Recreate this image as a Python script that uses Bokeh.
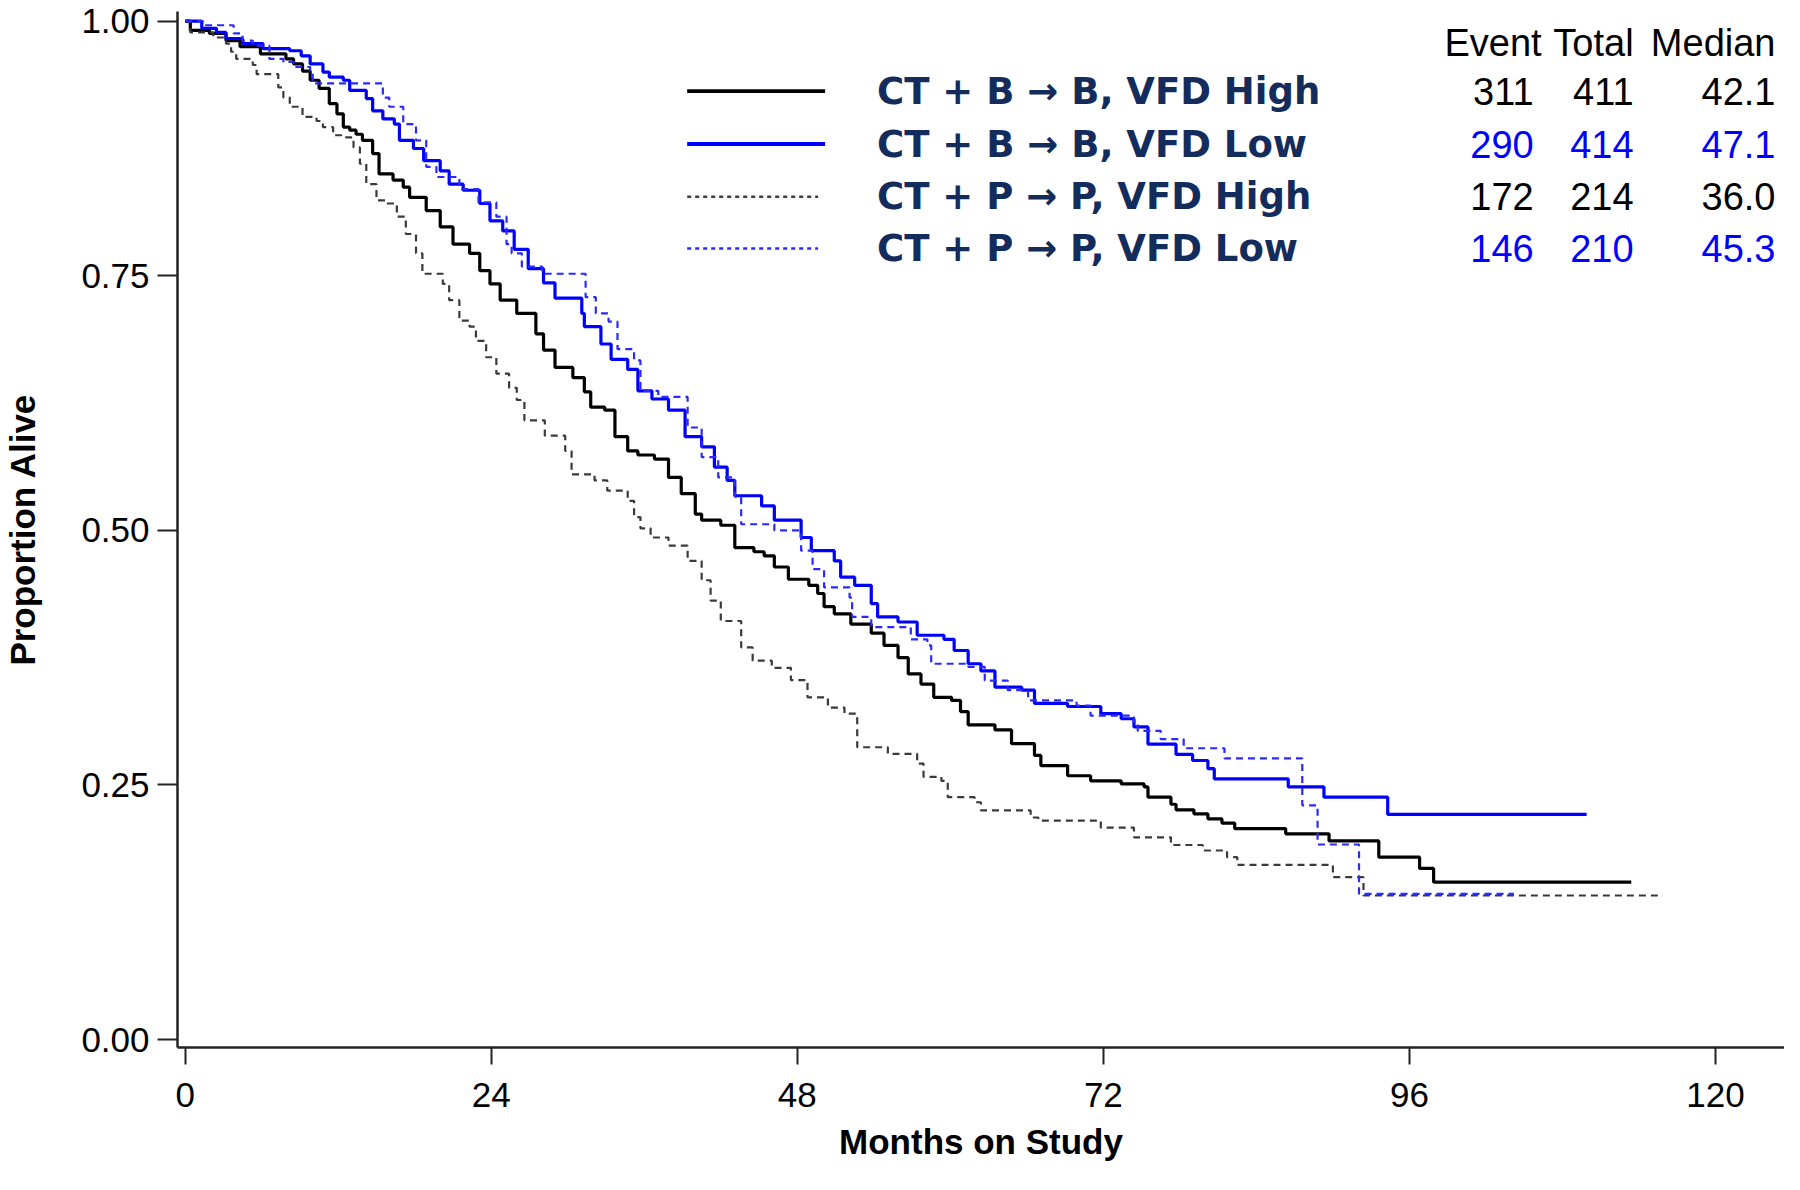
from bokeh.plotting import figure
from bokeh.models import Range1d, FixedTicker
from bokeh.core.properties import value
from bokeh.embed import file_html
from bokeh.resources import INLINE

# ---------------- data ----------------
b_high_t = [0, 0.4, 1.9, 3.2, 4.3, 5.9, 7.9, 8.5, 9.2, 9.8, 10.5, 11.3, 11.9, 12.4, 12.9, 13.4, 13.9,
            14.7, 15.2, 16.3, 17.1, 17.6, 18.9, 20.0, 21.0, 22.3, 23.1, 23.9, 24.7, 26.0, 27.5, 28.1,
            29.0, 30.4, 31.3, 31.8, 32.9, 33.7, 34.7, 35.5, 36.8, 37.9, 38.9, 40.0, 40.5, 42.0, 43.1,
            44.6, 45.4, 46.2, 47.3, 48.9, 49.6, 50.1, 50.9, 52.2, 53.8, 54.8, 55.9, 56.7, 57.7, 58.7,
            60.1, 60.8, 61.4, 63.5, 64.8, 66.6, 67.1, 69.2, 71.0, 73.4, 75.2, 75.5, 77.3, 77.7, 79.1,
            80.2, 81.3, 82.3, 86.3, 89.7, 93.6, 96.8, 97.9, 113.4]
b_high_s = [1.0, 0.991, 0.988, 0.981, 0.975, 0.968, 0.963, 0.958, 0.951, 0.942, 0.934, 0.919, 0.909,
            0.896, 0.893, 0.889, 0.883, 0.870, 0.850, 0.844, 0.837, 0.827, 0.814, 0.798, 0.781, 0.772,
            0.755, 0.742, 0.726, 0.713, 0.693, 0.677, 0.660, 0.650, 0.636, 0.621, 0.618, 0.592, 0.578,
            0.574, 0.570, 0.552, 0.536, 0.516, 0.510, 0.505, 0.483, 0.479, 0.475, 0.464, 0.452, 0.446,
            0.438, 0.425, 0.418, 0.408, 0.399, 0.387, 0.375, 0.359, 0.349, 0.336, 0.333, 0.322, 0.309,
            0.304, 0.2905, 0.279, 0.269, 0.259, 0.254, 0.251, 0.248, 0.238, 0.231, 0.2255, 0.2216,
            0.2167, 0.2125, 0.207, 0.202, 0.195, 0.179, 0.168, 0.1545, 0.1545]

b_low_t = [0, 1.3, 2.45, 3.2, 4.5, 6.1, 8.2, 9.1, 9.8, 10.8, 11.3, 12.4, 12.9, 14.2, 14.7, 15.5, 16.4,
           16.8, 17.9, 18.7, 20.0, 20.7, 21.8, 23.1, 23.9, 24.9, 25.8, 26.9, 28.1, 29.0, 31.1, 31.3,
           32.6, 33.4, 34.7, 35.5, 36.6, 37.9, 39.2, 40.5, 41.5, 42.5, 43.1, 45.2, 46.2, 48.3, 49.1,
           50.9, 51.4, 52.5, 53.8, 54.3, 55.9, 57.4, 59.5, 60.3, 61.4, 62.4, 63.5, 65.6, 66.6, 69.2,
           71.8, 73.4, 74.4, 75.5, 77.7, 79.0, 80.2, 80.7, 86.5, 89.3, 94.3, 109.9]
b_low_s = [1.0, 0.993, 0.989, 0.983, 0.978, 0.973, 0.971, 0.966, 0.958, 0.950, 0.945, 0.942, 0.932,
           0.924, 0.912, 0.904, 0.899, 0.883, 0.875, 0.863, 0.853, 0.840, 0.834, 0.821, 0.804, 0.794,
           0.776, 0.757, 0.743, 0.728, 0.713, 0.700, 0.683, 0.668, 0.658, 0.637, 0.629, 0.618, 0.592,
           0.582, 0.562, 0.549, 0.534, 0.524, 0.510, 0.493, 0.480, 0.470, 0.454, 0.446, 0.428, 0.415,
           0.410, 0.397, 0.393, 0.382, 0.369, 0.362, 0.346, 0.343, 0.330, 0.327, 0.320, 0.315, 0.307,
           0.290, 0.280, 0.274, 0.266, 0.256, 0.248, 0.238, 0.221, 0.221]

p_high_t = [0, 0.4, 2.2, 3.2, 3.6, 4.0, 5.3, 5.6, 7.3, 7.7, 8.2, 9.2, 10.3, 10.8, 11.6, 12.6, 13.2, 13.7,
            14.2, 15.0, 15.8, 16.6, 17.3, 18.1, 18.6, 20.2, 20.7, 21.5, 22.3, 22.8, 23.6, 24.4, 25.4,
            26.0, 26.6, 28.2, 29.8, 30.3, 32.1, 33.1, 34.7, 35.2, 35.7, 36.5, 37.9, 39.4, 40.5, 41.2,
            42.0, 43.6, 44.5, 46.0, 47.5, 48.8, 50.4, 51.7, 52.7, 55.1, 57.4, 57.9, 59.3, 59.8, 61.9,
            62.4, 66.3, 66.9, 71.8, 74.4, 77.3, 79.8, 81.7, 82.5, 90.0, 92.4, 115.6]
p_high_s = [1.0, 0.989, 0.984, 0.978, 0.970, 0.963, 0.957, 0.948, 0.935, 0.925, 0.916, 0.906, 0.902,
            0.896, 0.888, 0.886, 0.876, 0.860, 0.840, 0.824, 0.821, 0.808, 0.791, 0.772, 0.752, 0.742,
            0.726, 0.706, 0.700, 0.686, 0.670, 0.654, 0.640, 0.628, 0.608, 0.593, 0.578, 0.555, 0.549,
            0.539, 0.529, 0.513, 0.502, 0.493, 0.485, 0.470, 0.451, 0.431, 0.411, 0.385, 0.372, 0.365,
            0.353, 0.336, 0.326, 0.320, 0.287, 0.2805, 0.271, 0.258, 0.254, 0.238, 0.233, 0.225, 0.218,
            0.215, 0.208, 0.1985, 0.191, 0.1856, 0.179, 0.1715, 0.1594, 0.1414, 0.1414]

p_low_t = [0, 1.4, 3.8, 4.5, 5.3, 6.6, 7.7, 8.5, 9.8, 10.0, 15.5, 16.0, 17.1, 18.1, 18.9, 19.7, 21.5,
           23.0, 24.4, 25.2, 25.6, 26.4, 28.0, 31.4, 32.2, 33.2, 33.9, 35.2, 35.7, 37.1, 39.4, 40.5,
           41.8, 43.1, 43.6, 46.2, 48.3, 49.2, 50.1, 52.1, 52.3, 53.8, 56.9, 58.2, 58.5, 61.4, 62.7,
           64.5, 66.1, 69.9, 71.0, 74.4, 74.7, 76.5, 78.3, 81.5, 87.6, 88.8, 92.05, 104.2]
p_low_s = [1.0, 0.996, 0.988, 0.981, 0.976, 0.963, 0.960, 0.955, 0.950, 0.939, 0.925, 0.916, 0.899,
           0.883, 0.857, 0.847, 0.835, 0.822, 0.808, 0.781, 0.772, 0.759, 0.752, 0.729, 0.713, 0.705,
           0.678, 0.667, 0.637, 0.631, 0.601, 0.572, 0.552, 0.533, 0.506, 0.500, 0.480, 0.462, 0.444,
           0.434, 0.415, 0.405, 0.393, 0.387, 0.369, 0.366, 0.3525, 0.343, 0.333, 0.328, 0.318, 0.312,
           0.303, 0.295, 0.286, 0.276, 0.230, 0.1915, 0.143, 0.143]

legend_labels = ["CT + B \u2192 B, VFD High", "CT + B \u2192 B, VFD Low",
                 "CT + P \u2192 P, VFD High", "CT + P \u2192 P, VFD Low"]
events = ["311", "290", "172", "146"]
totals = ["411", "414", "214", "210"]
medians = ["42.1", "47.1", "36.0", "45.3"]
table_header = ["Event", "Total", "Median"]
x_ticks = [0, 24, 48, 72, 96, 120]
y_ticks = [0.0, 0.25, 0.5, 0.75, 1.0]
x_title = "Months on Study"
y_title = "Proportion Alive"

# ---------------- styles ----------------
series = [
    (b_high_t, b_high_s, "#000000", 3.2, "solid"),
    (b_low_t, b_low_s, "#0000ff", 3.2, "solid"),
    (p_high_t, p_high_s, "#3a3a3a", 2.2, "7 5"),
    (p_low_t, p_low_s, "#2a2aff", 2.2, "7 5"),
]
row_colors = ["#000000", "#0000ff", "#000000", "#0000ff"]

W, H = 1784, 1174

def mx(px):
    return (px - 183.7) / 12.76

def sy(py):
    return (1039.0 - py) / 1018.3

FL, FR, FT, FB = 176, 1784, 11, 1047
p = figure(width=W, height=H, output_backend="svg", toolbar_location=None,
           x_range=Range1d(mx(FL), mx(FR)), y_range=Range1d(sy(FB), sy(FT)),
           min_border_left=FL, min_border_right=W - FR, min_border_top=FT, min_border_bottom=H - FB)
p.outline_line_color = None
p.xgrid.visible = False
p.ygrid.visible = False
p.background_fill_color = "white"

tick_font = "Liberation Sans"
for ax in (p.xaxis[0], p.yaxis[0]):
    ax.axis_line_width = 2.5
    ax.axis_line_color = "#222222"
    ax.major_tick_line_width = 2
    ax.major_tick_line_color = "#222222"
    ax.minor_tick_line_color = None
    ax.major_tick_in = 0
    ax.major_label_text_font = tick_font
    ax.major_label_text_font_size = "35px"
    ax.major_label_text_color = "black"
    ax.axis_label_text_font = tick_font
    ax.axis_label_text_font_style = "bold"
    ax.axis_label_text_font_size = "35px"
    ax.axis_label_text_color = "black"

p.xaxis.ticker = FixedTicker(ticks=x_ticks)
p.xaxis.major_tick_out = 17
p.xaxis.major_label_standoff = 18
p.xaxis.axis_label = x_title
p.xaxis.axis_label_standoff = 12

p.yaxis.ticker = FixedTicker(ticks=y_ticks)
p.yaxis.major_label_overrides = {t: f"{t:.2f}" for t in y_ticks}
p.yaxis.major_tick_out = 20
p.yaxis.major_label_standoff = 8
p.yaxis.axis_label = y_title
p.yaxis.axis_label_standoff = 36

for t, s, col, lw, dash in series:
    p.step(t, s, mode="after", line_color=col, line_width=lw, line_dash=dash)

# legend
row_y = [sy(90.7), sy(143.5), sy(196.3), sy(248.0)]
leg_x0 = mx(686.0)
leg_x1 = [mx(824.0), mx(824.0), mx(817.0), mx(817.0)]
for i, (t, s, col, lw, dash) in enumerate(series):
    p.line([leg_x0, leg_x1[i]], [row_y[i], row_y[i]], line_color=col,
           line_width=lw + 0.6 if dash == "solid" else 2.6, line_dash=dash if dash == "solid" else "4 4")

p.text(x=[mx(876.0)] * 4, y=row_y, text=legend_labels, text_font=value("DejaVu Sans"),
       text_font_style="bold", text_font_size="37px", text_color="#142c5c",
       text_baseline="middle", text_align="left")

col_x = [mx(1533.0), mx(1633.0), mx(1775.0)]
hdr_x = [mx(1541.0), mx(1633.0), mx(1775.0)]
p.text(x=hdr_x, y=[sy(42.5)] * 3, text=table_header, text_font=value(tick_font),
       text_font_size="38px", text_color="black", text_baseline="middle", text_align="right")
for j, colvals in enumerate([events, totals, medians]):
    p.text(x=[col_x[j]] * 4, y=row_y, text=colvals, text_font=value(tick_font),
           text_font_size="38px", text_color=row_colors, text_baseline="middle", text_align="right")

open("out.html", "w").write(file_html(p, INLINE))
